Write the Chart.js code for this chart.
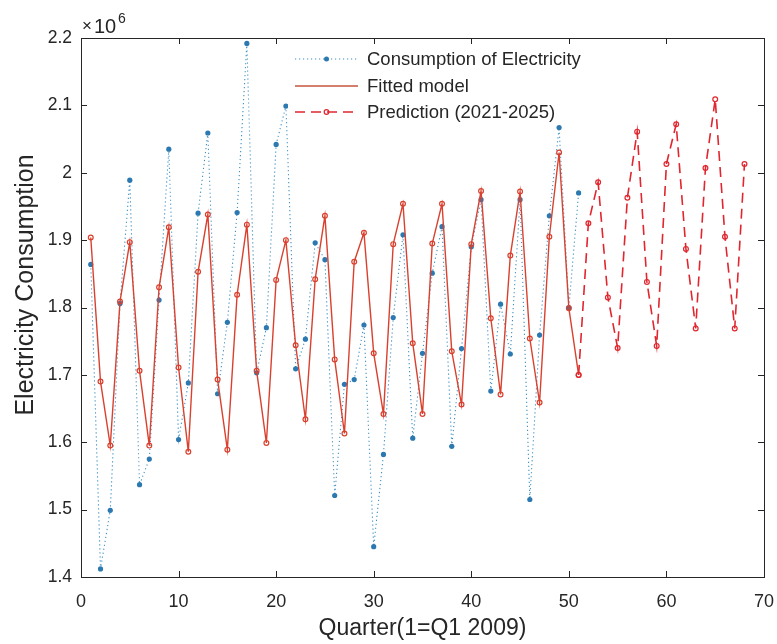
<!DOCTYPE html>
<html><head><meta charset="utf-8">
<script src="https://cdn.jsdelivr.net/npm/chart.js@4/dist/chart.umd.min.js"></script>
<style>html,body{margin:0;padding:0;background:#fff}#wrap{width:777px;height:644px}</style>
</head><body><div id="wrap"><canvas id="c" width="777" height="644"></canvas></div>
<script>
// values in units of 10^6
const actualQuarters = [1,2,3,4,5,6,7,8,9,10,11,12,13,14,15,16,17,18,19,20,21,22,23,24,25,26,27,28,29,30,31,32,33,34,35,36,37,38,39,40,41,42,43,44,45,46,47,48,49,50,51];
const actualValues = [1.864,1.412,1.499,1.806,1.989,1.537,1.575,1.811,2.035,1.604,1.688,1.940,2.059,1.672,1.778,1.941,2.192,1.703,1.770,2.042,2.099,1.709,1.753,1.896,1.871,1.521,1.686,1.693,1.774,1.445,1.582,1.785,1.908,1.606,1.732,1.851,1.920,1.594,1.739,1.890,1.960,1.676,1.805,1.731,1.960,1.515,1.759,1.936,2.067,1.800,1.970];
const fittedQuarters = [1,2,3,4,5,6,7,8,9,10,11,12,13,14,15,16,17,18,19,20,21,22,23,24,25,26,27,28,29,30,31,32,33,34,35,36,37,38,39,40,41,42,43,44,45,46,47,48,49,50,51];
const fittedValues = [1.904,1.690,1.595,1.809,1.897,1.706,1.595,1.830,1.919,1.711,1.586,1.853,1.938,1.693,1.589,1.819,1.923,1.706,1.599,1.841,1.900,1.744,1.634,1.842,1.936,1.723,1.613,1.868,1.911,1.732,1.642,1.894,1.954,1.747,1.642,1.895,1.954,1.735,1.656,1.894,1.973,1.784,1.671,1.877,1.972,1.754,1.659,1.905,2.030,1.799,1.700];
const predictionQuarters = [51,52,53,54,55,56,57,58,59,60,61,62,63,64,65,66,67,68];
const predictionValues = [1.700,1.925,1.986,1.815,1.740,1.963,2.061,1.838,1.743,2.013,2.072,1.887,1.769,2.007,2.109,1.905,1.769,2.013];
const xTicks = [0,10,20,30,40,50,60,70];
const yTicks = [1.4,1.5,1.6,1.7,1.8,1.9,2.0,2.1,2.2];
const seriesNames = ['Consumption of Electricity','Fitted model','Prediction (2021-2025)'];
const xTitle = 'Quarter(1=Q1 2009)';
const yTitle = 'Electricity Consumption';

const FONT = '"Liberation Sans", Arial, Helvetica, sans-serif';
const TXT = '#262626';
const BLUE = '#3a8fc4', BLUEDOT = '#2b79b0';
const FIT = '#d9412e', PRED = '#e0262e';

const toXY = (xs, ys) => xs.map((x, i) => ({x, y: ys[i]}));

const axesPlugin = {
  id: 'matlabAxes',
  afterDatasetsDraw(chart) {
    const {ctx, chartArea: a, scales: {x, y}} = chart;
    ctx.save();
    ctx.strokeStyle = TXT; ctx.lineWidth = 1;
    ctx.beginPath();
    xTicks.forEach(v => {
      const px = Math.round(x.getPixelForValue(v)) + 0.5;
      ctx.moveTo(px, a.bottom); ctx.lineTo(px, a.bottom - 6);
      ctx.moveTo(px, a.top); ctx.lineTo(px, a.top + 6);
    });
    yTicks.forEach(v => {
      const py = Math.round(y.getPixelForValue(v)) + 0.5;
      ctx.moveTo(a.left, py); ctx.lineTo(a.left + 6, py);
      ctx.moveTo(a.right, py); ctx.lineTo(a.right - 6, py);
    });
    ctx.stroke();
    ctx.strokeRect(Math.round(a.left) + 0.5, Math.round(a.top) + 0.5, Math.round(a.right - a.left), Math.round(a.bottom - a.top));
    // exponent label
    ctx.fillStyle = TXT;
    ctx.textBaseline = 'alphabetic';
    ctx.font = '17px ' + FONT;
    ctx.fillText('\u00d7', a.left + 1, a.top - 7);
    ctx.font = '20px ' + FONT;
    ctx.fillText('10', a.left + 13, a.top - 5);
    ctx.font = '14px ' + FONT;
    ctx.fillText('6', a.left + 37, a.top - 15);

    // y axis title (centered where the reference places it)
    ctx.save();
    ctx.translate(26, 285);
    ctx.rotate(-Math.PI / 2);
    ctx.font = '25px ' + FONT;
    ctx.textAlign = 'center'; ctx.textBaseline = 'middle';
    ctx.fillText(yTitle, 0, 0);
    ctx.restore();

    // legend
    const lx0 = 295, lx1 = 358, tx = 367;
    const rows = [59, 86, 112];
    ctx.fillStyle = '#fff';
    ctx.fillRect(288, 44, 315, 79);
    ctx.lineWidth = 1;
    ctx.strokeStyle = BLUE; ctx.setLineDash([1.2, 2.8]);
    ctx.beginPath(); ctx.moveTo(lx0, rows[0]); ctx.lineTo(lx1, rows[0]); ctx.stroke();
    ctx.setLineDash([]);
    ctx.fillStyle = BLUEDOT; ctx.beginPath(); ctx.arc((lx0 + lx1) / 2, rows[0], 2.5, 0, Math.PI * 2); ctx.fill();
    ctx.strokeStyle = '#c4553c'; ctx.lineWidth = 1.3;
    ctx.beginPath(); ctx.moveTo(lx0, rows[1]); ctx.lineTo(lx1, rows[1]); ctx.stroke();
    ctx.strokeStyle = PRED; ctx.lineWidth = 1.5; ctx.setLineDash([10, 6]);
    ctx.beginPath(); ctx.moveTo(lx0, rows[2]); ctx.lineTo(lx1, rows[2]); ctx.stroke();
    ctx.setLineDash([]);
    ctx.lineWidth = 1.2; ctx.beginPath(); ctx.arc((lx0 + lx1) / 2, rows[2], 2.3, 0, Math.PI * 2); ctx.stroke();
    ctx.fillStyle = TXT; ctx.font = '18.5px ' + FONT; ctx.textBaseline = 'middle';
    seriesNames.forEach((s, i) => ctx.fillText(s, tx, rows[i] + 1));
    ctx.restore();
  }
};

new Chart(document.getElementById('c'), {
  type: 'scatter',
  data: {
    datasets: [
      {label: seriesNames[0], data: toXY(actualQuarters, actualValues), showLine: true,
       borderColor: BLUE, borderWidth: 1.1, borderDash: [1.2, 2.8],
       pointRadius: 2.6, pointBackgroundColor: BLUEDOT, pointBorderColor: BLUEDOT, pointBorderWidth: 0, order: 3},
      {label: seriesNames[1], data: toXY(fittedQuarters, fittedValues), showLine: true,
       borderColor: FIT, borderWidth: 1.4,
       pointRadius: 2.4, pointBackgroundColor: 'rgba(255,255,255,0)', pointBorderColor: FIT, pointBorderWidth: 1.2, order: 2},
      {label: seriesNames[2], data: toXY(predictionQuarters, predictionValues), showLine: true,
       borderColor: PRED, borderWidth: 1.6, borderDash: [10, 6],
       pointRadius: 2.4, pointBackgroundColor: 'rgba(255,255,255,0)', pointBorderColor: PRED, pointBorderWidth: 1.2, order: 1}
    ]
  },
  options: {
    responsive: false, animation: false, devicePixelRatio: 1,
    layout: {padding: {top: 38, right: 0, left: 0, bottom: 0}},
    plugins: {legend: {display: false}, tooltip: {enabled: false}},
    scales: {
      x: {
        type: 'linear', min: 0, max: 70,
        afterBuildTicks: s => { s.ticks = xTicks.map(v => ({value: v})); },
        afterFit: s => { s.height = 67; s.paddingRight = 13; s.paddingLeft = 0; },
        grid: {display: false, drawTicks: false}, border: {display: false},
        ticks: {color: TXT, font: {family: FONT, size: 18}, padding: 14, maxRotation: 0, autoSkip: false},
        title: {display: true, text: xTitle, color: TXT, font: {family: FONT, size: 23}, padding: {top: 0, bottom: 2}}
      },
      y: {
        type: 'linear', min: 1.4, max: 2.2,
        afterBuildTicks: s => { s.ticks = yTicks.map(v => ({value: v})); },
        afterFit: s => { s.width = 81; },
        grid: {display: false, drawTicks: false}, border: {display: false},
        ticks: {color: TXT, font: {family: FONT, size: 17.5}, padding: 9, autoSkip: false,
          callback: v => String(+Number(v).toFixed(1))},
        title: {display: false}
      }
    }
  },
  plugins: [axesPlugin]
});
</script>
</body></html>
